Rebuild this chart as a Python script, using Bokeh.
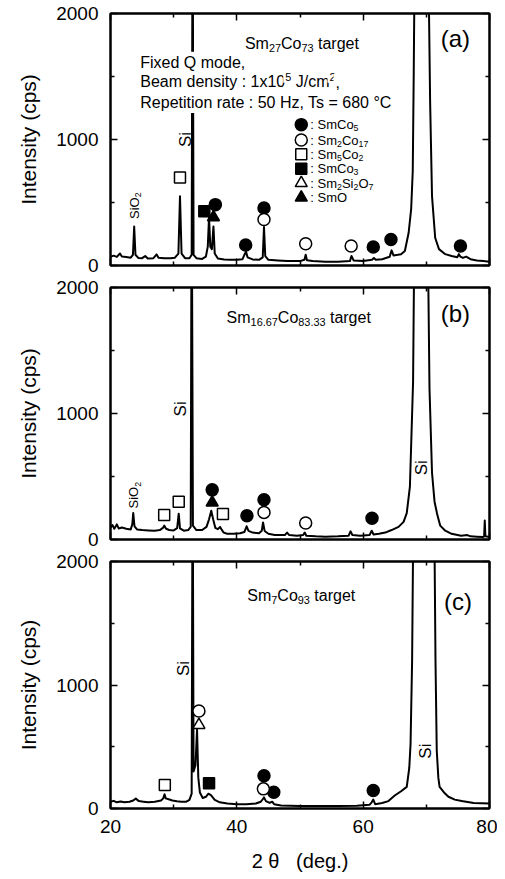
import math
from bokeh.plotting import figure
from bokeh.layouts import column
from bokeh.models import Range1d, LinearAxis, FixedTicker, ColumnDataSource, CustomJSTickFormatter
from bokeh.core.properties import value
from bokeh.embed import file_html
from bokeh.resources import INLINE

FONT = "Liberation Sans"

# ---------------- data ----------------
X_TICKS = [20, 40, 60, 80]
X_MINOR = [30, 50, 70]
Y_TICKS = [0, 1000, 2000]
Y_MINOR = [500, 1500]

# (2theta [deg], intensity [cps])
A_TRACE = [
    (20.0, 70), (20.5, 78), (21.0, 68), (21.5, 95), (21.8, 72), (22.5, 68), (23.2, 62),
    (23.55, 85), (23.75, 310), (23.95, 85), (24.4, 60), (25.0, 58), (25.5, 75), (25.9, 55),
    (26.8, 58), (27.3, 88), (27.6, 62), (28.5, 58), (29.5, 58), (30.2, 62), (30.75, 95),
    (31.0, 550), (31.25, 95), (31.8, 58), (32.5, 58), (32.85, 85), (33.0, 3000), (33.15, 85),
    (33.6, 58), (34.5, 52), (35.1, 70), (35.4, 150), (35.6, 385), (35.8, 150), (36.05, 130),
    (36.3, 310), (36.5, 95), (37.0, 55), (38.0, 48), (39.0, 45), (40.0, 45), (40.9, 50),
    (41.2, 85), (41.45, 110), (41.7, 65), (42.5, 48), (43.5, 45), (44.1, 65), (44.3, 305),
    (44.5, 75), (45.0, 45), (46.5, 40), (48.0, 35), (50.0, 35), (50.7, 45), (50.9, 85),
    (51.1, 42), (52.0, 35), (54.0, 30), (56.0, 30), (57.9, 35), (58.15, 75), (58.5, 40),
    (60.0, 35), (61.4, 45), (61.7, 60), (62.0, 45), (63.0, 50), (64.2, 70), (64.5, 120),
    (64.8, 80), (65.5, 85), (66.0, 90), (66.6, 115), (67.2, 260), (67.6, 450), (67.85, 750),
    (68.0, 1500), (68.1, 2100), (69.3, 9000), (70.4, 2100), (70.6, 1300), (70.9, 550),
    (71.4, 220), (72.0, 130), (73.0, 90), (74.0, 75), (74.9, 65), (75.15, 90), (75.4, 70),
    (75.8, 60), (76.3, 70), (77.0, 50), (78.0, 40), (79.0, 35), (80.0, 30),
]
B_TRACE = [
    (20.0, 95), (20.3, 115), (20.6, 85), (21.0, 120), (21.3, 88), (21.8, 95), (22.5, 85),
    (23.2, 80), (23.45, 120), (23.6, 210), (23.8, 105), (24.2, 80), (25.0, 75), (26.0, 72),
    (27.0, 70), (27.8, 75), (28.3, 92), (28.5, 110), (28.8, 85), (29.3, 75), (30.0, 72),
    (30.55, 90), (30.8, 205), (31.0, 88), (31.6, 70), (32.3, 75), (32.7, 100), (32.85, 3000),
    (33.05, 110), (33.6, 75), (34.5, 75), (35.2, 100), (35.6, 160), (35.95, 228), (36.25, 160),
    (36.6, 92), (37.0, 82), (37.35, 100), (37.6, 78), (37.9, 55), (38.5, 45), (39.5, 45),
    (40.5, 50), (41.2, 60), (41.55, 105), (41.85, 68), (42.5, 55), (43.5, 50), (43.95, 70),
    (44.15, 135), (44.4, 68), (45.0, 45), (46.0, 35), (47.6, 35), (47.95, 55), (48.3, 35),
    (49.5, 30), (50.5, 35), (50.75, 55), (51.0, 30), (52.5, 25), (54.0, 22), (56.0, 25),
    (57.7, 30), (58.0, 65), (58.3, 35), (59.5, 30), (61.0, 35), (61.35, 70), (61.65, 40),
    (62.5, 45), (63.5, 55), (64.5, 75), (65.6, 100), (66.4, 140), (66.9, 210), (67.4, 420),
    (67.9, 1250), (68.05, 2100), (69.2, 9000), (70.3, 2100), (70.5, 1200), (70.9, 530),
    (71.3, 300), (71.7, 205), (72.2, 110), (73.0, 70), (74.0, 45), (75.5, 30), (76.5, 35),
    (77.0, 25), (78.0, 22), (79.0, 20), (79.15, 25), (79.25, 150), (79.35, 25), (80.0, 20),
]
C_TRACE = [
    (20.0, 55), (20.5, 62), (21.0, 50), (21.6, 57), (22.2, 50), (23.0, 55), (23.6, 65),
    (24.0, 80), (24.5, 60), (25.2, 55), (26.0, 50), (27.0, 55), (28.0, 65), (28.35, 82),
    (28.55, 115), (28.75, 82), (29.2, 75), (29.8, 65), (30.5, 58), (31.2, 55), (32.0, 55),
    (32.5, 70), (32.85, 120), (33.0, 3000), (33.15, 300), (33.45, 350), (33.7, 640),
    (33.9, 250), (34.15, 130), (34.6, 85), (35.1, 95), (35.5, 120), (35.9, 108), (36.5, 70),
    (37.3, 50), (38.5, 40), (40.0, 35), (41.5, 35), (43.0, 40), (43.8, 55), (44.1, 75),
    (44.3, 90), (44.6, 60), (45.2, 45), (45.6, 55), (45.9, 35), (47.0, 25), (50.0, 20),
    (53.0, 20), (56.0, 20), (59.0, 22), (61.0, 30), (61.35, 50), (61.6, 72), (61.9, 35),
    (63.0, 45), (64.0, 60), (65.0, 105), (66.0, 140), (66.9, 175), (67.3, 330), (67.5, 520),
    (67.75, 1200), (67.9, 2100), (69.6, 9000), (71.3, 2100), (71.45, 1200), (71.65, 470),
    (71.9, 250), (72.1, 175), (72.8, 130), (73.5, 95), (74.5, 72), (75.6, 60), (77.5, 45),
    (80.0, 40),
]

# phase markers (2theta, intensity)
A_SMCO5 = [(36.6, 483), (41.4, 163), (44.3, 457), (61.6, 147), (64.4, 207), (75.4, 155)]
A_SM2CO17 = [(44.3, 365), (50.9, 173), (58.1, 155)]
A_SM5CO2 = [(31.0, 698)]
A_SMCO3 = [(34.85, 430)]
A_SM2SI2O7 = []
A_SMO = [(36.3, 383)]

B_SMCO5 = [(36.1, 394), (41.6, 189), (44.3, 315), (61.4, 168)]
B_SM2CO17 = [(44.3, 215), (50.9, 131)]
B_SM5CO2 = [(28.5, 194), (30.8, 299), (37.8, 202)]
B_SMCO3 = []
B_SM2SI2O7 = []
B_SMO = [(36.1, 294)]

C_SMCO5 = [(44.3, 265), (45.85, 132), (61.6, 146)]
C_SM2CO17 = [(34.0, 790), (44.2, 159)]
C_SM5CO2 = [(28.6, 191)]
C_SMCO3 = [(35.6, 204)]
C_SM2SI2O7 = [(34.0, 676)]
C_SMO = []

# legend (panel a), in data coordinates
LEGEND_X = 50.2
LEGEND_Y = [1118, 996, 882, 768, 654, 539]
LEGEND_LABELS = [
    [(": SmCo", "n"), ("5", "sub")],
    [(": Sm", "n"), ("2", "sub"), ("Co", "n"), ("17", "sub")],
    [(": Sm", "n"), ("5", "sub"), ("Co", "n"), ("2", "sub")],
    [(": SmCo", "n"), ("3", "sub")],
    [(": Sm", "n"), ("2", "sub"), ("Si", "n"), ("2", "sub"), ("O", "n"), ("7", "sub")],
    [(": SmO", "n")],
]
PHASES = ["smco5", "sm2co17", "sm5co2", "smco3", "sm2si2o7", "smo"]

STYLE = {
    "smco5": dict(marker="circle", fill_color="black", size=12),
    "sm2co17": dict(marker="circle", fill_color="white", size=12),
    "sm5co2": dict(marker="square", fill_color="white", size=11),
    "smco3": dict(marker="square", fill_color="black", size=11),
    "sm2si2o7": dict(marker="triangle", fill_color="white", size=12),
    "smo": dict(marker="triangle", fill_color="black", size=12),
}

# Arial / Liberation Sans advance widths (1/1000 em)
W = {" ": 278, ".": 278, ":": 278, ",": 278, "/": 278, "S": 667, "m": 833, "C": 722,
     "o": 556, "t": 278, "a": 556, "r": 333, "g": 556, "e": 556, "i": 222, "O": 778,
     "B": 667, "d": 556, "n": 556, "s": 500, "y": 500, "x": 500, "J": 500, "c": 500,
     "(": 333, ")": 333, "b": 556}


def text_w(s, fs):
    return sum(W.get(ch, 556) for ch in s) / 1000.0 * fs


def rich(p, x, y, segs, size, align="left", angle=0.0, pad=0.0, bg=None):
    sub_k = 0.68
    total = sum(text_w(s, size * (sub_k if k != "n" else 1)) for s, k in segs)
    adv = pad if align == "left" else -total / 2.0
    ca, sa = math.cos(angle), math.sin(angle)
    d = dict(x=[], y=[], t=[], dx=[], dy=[], fs=[])
    for s, k in segs:
        fs = size * sub_k if k != "n" else size
        down = 0.28 * size if k == "sub" else (-0.32 * size if k == "sup" else 0.0)
        lead = len(s) - len(s.lstrip(" "))
        adv += text_w(" " * lead, fs)
        s2 = s.lstrip(" ")
        d["x"].append(x)
        d["y"].append(y)
        d["t"].append(s2)
        d["dx"].append(adv * ca + down * sa)
        d["dy"].append(-adv * sa + down * ca)
        d["fs"].append("%.1fpx" % fs)
        adv += text_w(s2, fs)
    extra = {}
    if bg is not None:
        extra = dict(background_fill_color=bg, padding=2)
    p.text(x="x", y="y", text="t", x_offset="dx", y_offset="dy", text_font_size="fs",
           angle=angle, source=ColumnDataSource(d), text_font=value(FONT),
           text_align="left", text_baseline="middle", text_color="black", **extra)


def style_axis(ax, ticks, minor, labels):
    ax.ticker = FixedTicker(ticks=ticks, minor_ticks=minor)
    ax.axis_line_width = 2
    ax.axis_line_color = "black"
    ax.major_tick_in = 7
    ax.major_tick_out = 0
    ax.minor_tick_in = 4
    ax.minor_tick_out = 0
    ax.major_tick_line_width = 1.5
    ax.minor_tick_line_width = 1.5
    ax.major_tick_line_color = "black"
    ax.minor_tick_line_color = "black"
    if labels:
        ax.major_label_text_font = FONT
        ax.major_label_text_font_size = "19px"
        ax.major_label_text_color = "black"
    else:
        ax.formatter = CustomJSTickFormatter(code="return ''")
        ax.major_label_text_font_size = "1px"
        ax.major_label_standoff = 0


def panel(height, top, bottom, trace, markers, show_x):
    p = figure(width=497, height=height, x_range=Range1d(20, 80), y_range=Range1d(0, 2000),
               output_backend="svg", toolbar_location=None,
               min_border_left=110, min_border_right=8,
               min_border_top=top, min_border_bottom=bottom)
    p.grid.visible = False
    p.outline_line_color = "black"
    p.outline_line_width = 2
    p.background_fill_color = "white"
    p.border_fill_color = "white"

    yl = p.yaxis[0]
    style_axis(yl, Y_TICKS, Y_MINOR, True)
    yl.major_label_standoff = 12
    yl.axis_label = "Intensity (cps)"
    yl.axis_label_text_font = FONT
    yl.axis_label_text_font_size = "21px"
    yl.axis_label_text_font_style = "normal"
    yl.axis_label_text_color = "black"
    yl.axis_label_standoff = 13

    xb = p.xaxis[0]
    style_axis(xb, X_TICKS, X_MINOR, show_x)
    if show_x:
        xb.major_label_standoff = 11
        xb.axis_label = "2\u00a0θ\u00a0\u00a0\u00a0(deg.)"
        xb.axis_label_text_font = FONT
        xb.axis_label_text_font_size = "20px"
        xb.axis_label_text_font_style = "normal"
        xb.axis_label_text_color = "black"
        xb.axis_label_standoff = 14

    yr = LinearAxis()
    style_axis(yr, Y_TICKS, Y_MINOR, False)
    p.add_layout(yr, "right")
    xt = LinearAxis()
    style_axis(xt, X_TICKS, X_MINOR, False)
    p.add_layout(xt, "above")

    xs = [t[0] for t in trace]
    ys = [t[1] for t in trace]
    p.line(xs, ys, line_color="black", line_width=2, line_join="round")

    for name, pts in zip(PHASES, markers):
        if not pts:
            continue
        st = STYLE[name]
        p.scatter([q[0] for q in pts], [q[1] for q in pts], marker=st["marker"],
                  size=st["size"], fill_color=st["fill_color"], line_color="black",
                  line_width=1.5)
    return p


p1 = panel(276, 13, 11, A_TRACE,
           [A_SMCO5, A_SM2CO17, A_SM5CO2, A_SMCO3, A_SM2SI2O7, A_SMO], False)
p2 = panel(274, 11, 11, B_TRACE,
           [B_SMCO5, B_SM2CO17, B_SM5CO2, B_SMCO3, B_SM2SI2O7, B_SMO], False)
p3 = panel(328, 11, 70, C_TRACE,
           [C_SMCO5, C_SM2CO17, C_SM5CO2, C_SMCO3, C_SM2SI2O7, C_SMO], True)

HALF = math.pi / 2

# panel (a) annotations
rich(p1, 50.3, 1761, [("Sm", "n"), ("27", "sub"), ("Co", "n"), ("73", "sub"), (" target", "n")], 16, "center")
rich(p1, 74.6, 1803, [("(a)", "n")], 24, "center")
rich(p1, 24.4, 1614, [("Fixed Q mode,", "n")], 16, bg="white")
rich(p1, 24.4, 1457, [("Beam density : 1x10", "n"), ("5", "sup"), (" J/cm", "n"), ("2", "sup"), (",", "n")], 16, bg="white")
rich(p1, 24.4, 1294, [("Repetition rate : 50 Hz, Ts = 680 °C", "n")], 16, bg="white")
rich(p1, 23.75, 475, [("SiO", "n"), ("2", "sub")], 13, "center", HALF)
rich(p1, 31.8, 1000, [("Si", "n")], 17, "center", HALF)
for name, ly, lab in zip(PHASES, LEGEND_Y, LEGEND_LABELS):
    st = STYLE[name]
    p1.scatter([LEGEND_X], [ly], marker=st["marker"], size=st["size"],
               fill_color=st["fill_color"], line_color="black", line_width=1.5)
    rich(p1, LEGEND_X, ly, lab, 13, "left", 0.0, pad=9)

# panel (b)
rich(p2, 49.8, 1764, [("Sm", "n"), ("16.67", "sub"), ("Co", "n"), ("83.33", "sub"), (" target", "n")], 16, "center")
rich(p2, 74.6, 1790, [("(b)", "n")], 24, "center")
rich(p2, 23.7, 352, [("SiO", "n"), ("2", "sub")], 13, "center", HALF)
rich(p2, 31.1, 1037, [("Si", "n")], 17, "center", HALF)
rich(p2, 69.2, 569, [("Si", "n")], 17, "center", HALF)

# panel (c)
rich(p3, 50.2, 1726, [("Sm", "n"), ("7", "sub"), ("Co", "n"), ("93", "sub"), (" target", "n")], 16, "center")
rich(p3, 75.0, 1673, [("(c)", "n")], 24, "center")
rich(p3, 31.5, 1134, [("Si", "n")], 17, "center", HALF)
rich(p3, 69.9, 465, [("Si", "n")], 17, "center", HALF)

layout = column(p1, p2, p3)
open("out.html", "w").write(file_html(layout, INLINE))
